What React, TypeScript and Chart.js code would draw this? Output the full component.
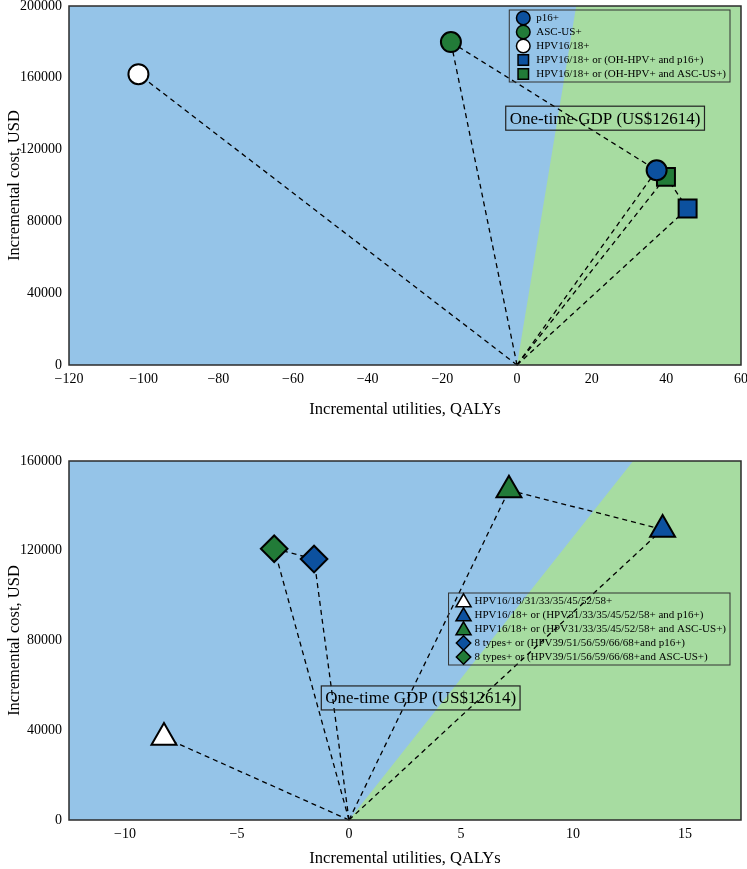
import React, { useEffect, useRef } from 'react';
import { Chart, registerables } from 'chart.js';
import { drawPoint } from 'chart.js/helpers';

Chart.register(...registerables);

const FONT = "'Liberation Serif', 'Times New Roman', Times, serif";
const BG_BLUE = '#95c4e8';
const BG_GREEN = '#a7dca1';
const M_BLUE = '#0c519f';
const M_GREEN = '#227b38';
const WTP = 12614; // one-time GDP per capita, US$ per QALY
const GDP_LABEL = 'One-time GDP (US$12614)';

// ---------- Panel A ----------
const aLabels = [
  'p16+',
  'ASC-US+',
  'HPV16/18+',
  'HPV16/18+ or (OH-HPV+ and p16+)',
  'HPV16/18+ or (OH-HPV+ and ASC-US+)',
];
const aQalys = [37.4, -17.7, -101.4, 45.7, 39.9];
const aCosts = [108500, 179900, 162000, 87200, 104800];
const aFrontier = [1, 0, 4, 3];
const aXTicks = [-120, -100, -80, -60, -40, -20, 0, 20, 40, 60];
const aYTicks = [0, 40000, 80000, 120000, 160000, 200000];
const aXRange = [-120, 60];
const aYRange = [0, 200000];
const aGdpAt = [23.6, 137500];

// ---------- Panel B ----------
const bLabels = [
  'HPV16/18/31/33/35/45/52/58+',
  'HPV16/18+ or (HPV31/33/35/45/52/58+ and p16+)',
  'HPV16/18+ or (HPV31/33/35/45/52/58+ and ASC-US+)',
  '8 types+ or (HPV39/51/56/59/66/68+and p16+)',
  '8 types+ or (HPV39/51/56/59/66/68+and ASC-US+)',
];
const bQalys = [-8.26, 14.0, 7.14, -1.56, -3.34];
const bCosts = [36800, 129500, 147000, 116300, 120900];
const bFrontiers = [[4, 3], [2, 1]];
const bXTicks = [-10, -5, 0, 5, 10, 15];
const bYTicks = [0, 40000, 80000, 120000, 160000];
const bXRange = [-12.5, 17.5];
const bYRange = [0, 160000];
const bGdpAt = [3.2, 54400];

// marker styles (plot radius, legend radius)
const aMarkers = [
  { style: 'circle', color: M_BLUE, r: 10, lr: 6.8 },
  { style: 'circle', color: M_GREEN, r: 10, lr: 6.8 },
  { style: 'circle', color: '#ffffff', r: 10, lr: 6.8 },
  { style: 'rect', color: M_BLUE, r: 12.7, lr: 7.4 },
  { style: 'rect', color: M_GREEN, r: 12.7, lr: 7.4 },
];
const bMarkers = [
  { style: 'triangle', color: '#ffffff', r: 14.4, lr: 8.7 },
  { style: 'triangle', color: M_BLUE, r: 14.4, lr: 8.7 },
  { style: 'triangle', color: M_GREEN, r: 14.4, lr: 8.7 },
  { style: 'rectRot', color: M_BLUE, r: 13.3, lr: 7.2 },
  { style: 'rectRot', color: M_GREEN, r: 13.3, lr: 7.2 },
];

type Panel = {
  labels: string[];
  qalys: number[];
  costs: number[];
  frontiers: number[][];
  xTicks: number[];
  yTicks: number[];
  xRange: number[];
  yRange: number[];
  gdpAt: number[];
  markers: { style: string; color: string; r: number; lr: number }[];
  height: number;
  padTop: number;
  padRight: number;
  xAxisH: number;
  xTitlePadBottom: number;
  legendTopInset: number;
  legendMarkerDx: number;
  legendTextDx: number;
};

const panelA: Panel = {
  labels: aLabels, qalys: aQalys, costs: aCosts, frontiers: [aFrontier],
  xTicks: aXTicks, yTicks: aYTicks, xRange: aXRange, yRange: aYRange, gdpAt: aGdpAt,
  markers: aMarkers, height: 440, padTop: 6, padRight: 6, xAxisH: 75, xTitlePadBottom: 20,
  legendTopInset: 4, legendMarkerDx: 14, legendTextDx: 27,
};
const panelB: Panel = {
  labels: bLabels, qalys: bQalys, costs: bCosts, frontiers: bFrontiers,
  xTicks: bXTicks, yTicks: bYTicks, xRange: bXRange, yRange: bYRange, gdpAt: bGdpAt,
  markers: bMarkers, height: 429, padTop: 21, padRight: 6, xAxisH: 49, xTitlePadBottom: 0,
  legendTopInset: 132, legendMarkerDx: 15, legendTextDx: 26,
};

const fmt = (v: number) => (v < 0 ? '\u2212' + Math.abs(v) : String(v));

function makeDecor(p: Panel) {
  return {
    id: 'ceaDecor',
    beforeDatasetsDraw(chart: any) {
      const { ctx, chartArea: ca, scales } = chart;
      const x = scales.x, y = scales.y;
      ctx.save();
      ctx.beginPath();
      ctx.rect(ca.left, ca.top, ca.right - ca.left, ca.bottom - ca.top);
      ctx.clip();
      ctx.fillStyle = BG_BLUE;
      ctx.fillRect(ca.left, ca.top, ca.right - ca.left, ca.bottom - ca.top);
      const yMax = y.max, yMin = y.min, xMax = x.max;
      ctx.beginPath();
      ctx.moveTo(x.getPixelForValue(yMin / WTP), y.getPixelForValue(yMin));
      ctx.lineTo(x.getPixelForValue(yMax / WTP), y.getPixelForValue(yMax));
      ctx.lineTo(x.getPixelForValue(xMax) + 2, y.getPixelForValue(yMax));
      ctx.lineTo(x.getPixelForValue(xMax) + 2, y.getPixelForValue(yMin));
      ctx.closePath();
      ctx.fillStyle = BG_GREEN;
      ctx.fill();
      ctx.restore();
    },
    afterDatasetsDraw(chart: any) {
      const { ctx, chartArea: ca, scales } = chart;
      const x = scales.x, y = scales.y;
      ctx.save();
      // frame
      ctx.strokeStyle = '#2b2b2b';
      ctx.lineWidth = 1.5;
      ctx.strokeRect(ca.left, ca.top, ca.right - ca.left, ca.bottom - ca.top);

      // GDP annotation
      ctx.font = `17px ${FONT}`;
      ctx.textBaseline = 'middle';
      ctx.textAlign = 'center';
      const gx = x.getPixelForValue(p.gdpAt[0]);
      const gy = y.getPixelForValue(p.gdpAt[1]);
      const tw = ctx.measureText(GDP_LABEL).width;
      ctx.fillStyle = '#000';
      ctx.fillText(GDP_LABEL, gx, gy + 1);
      ctx.strokeStyle = '#222';
      ctx.lineWidth = 1.2;
      ctx.strokeRect(gx - tw / 2 - 4, gy - 12, tw + 8, 24);

      // legend
      ctx.font = `11px ${FONT}`;
      ctx.textAlign = 'left';
      const maxW = Math.max(...p.labels.map((l) => ctx.measureText(l).width));
      const w = p.legendTextDx + maxW + 4;
      const rowH = 14;
      const h = 8 + rowH * (p.labels.length - 1) + 8;
      const right = ca.right - 11;
      const left = right - w;
      const top = ca.top + p.legendTopInset;
      ctx.strokeStyle = '#333';
      ctx.lineWidth = 1;
      ctx.strokeRect(left, top, w, h);
      p.labels.forEach((lab, i) => {
        const cy = top + 8 + i * rowH;
        const m = p.markers[i];
        ctx.fillStyle = m.color;
        ctx.strokeStyle = '#000';
        ctx.lineWidth = 1.5;
        drawPoint(ctx, { pointStyle: m.style, radius: m.lr, rotation: 0, borderWidth: 1.5 } as any,
          left + p.legendMarkerDx, cy + (m.style === 'triangle' ? 1.5 : 0));
        ctx.fillStyle = '#000';
        ctx.fillText(lab, left + p.legendTextDx, cy + 0.5);
      });
      ctx.restore();
    },
  };
}

function buildConfig(p: Panel): any {
  const lineStyle = {
    type: 'scatter',
    showLine: true,
    borderColor: '#000',
    borderWidth: 1.3,
    borderDash: [5, 4],
    pointRadius: 0,
    order: 2,
    clip: false,
  };
  const rays = p.qalys.map((q, i) => ({
    ...lineStyle,
    label: 'ray ' + p.labels[i],
    data: [{ x: 0, y: 0 }, { x: q, y: p.costs[i] }],
  }));
  const fronts = p.frontiers.map((f, k) => ({
    ...lineStyle,
    label: 'frontier ' + k,
    data: f.map((i) => ({ x: p.qalys[i], y: p.costs[i] })),
  }));
  const points = p.qalys.map((q, i) => ({
    type: 'scatter',
    label: p.labels[i],
    data: [{ x: q, y: p.costs[i] }],
    pointStyle: p.markers[i].style,
    pointRadius: p.markers[i].r,
    pointBackgroundColor: p.markers[i].color,
    pointBorderColor: '#000',
    pointBorderWidth: 2,
    order: 0,
    clip: false,
  }));
  const tickFont = { family: FONT, size: 14 };
  const titleFont = { family: FONT, size: 16.5 };
  return {
    type: 'scatter',
    data: { datasets: [...rays, ...fronts, ...points] },
    options: {
      responsive: false,
      animation: false,
      events: [],
      layout: { autoPadding: false, padding: { top: p.padTop, right: p.padRight, left: 0, bottom: 0 } },
      plugins: { legend: { display: false }, tooltip: { enabled: false } },
      scales: {
        x: {
          type: 'linear',
          min: p.xRange[0],
          max: p.xRange[1],
          grid: { display: false, drawTicks: false },
          border: { display: false },
          afterBuildTicks: (s: any) => { s.ticks = p.xTicks.map((v) => ({ value: v })); },
          afterFit: (s: any) => { s.height = p.xAxisH; s.paddingLeft = 0; s.paddingRight = 0; s.paddingTop = 0; s.paddingBottom = 0; },
          ticks: { color: '#000', font: tickFont, padding: 6, maxRotation: 0, autoSkip: false, callback: (v: any) => fmt(Number(v)) },
          title: { display: true, text: 'Incremental utilities, QALYs', color: '#000', font: titleFont, padding: { top: 0, bottom: p.xTitlePadBottom } },
        },
        y: {
          type: 'linear',
          min: p.yRange[0],
          max: p.yRange[1],
          grid: { display: false, drawTicks: false },
          border: { display: false },
          afterBuildTicks: (s: any) => { s.ticks = p.yTicks.map((v) => ({ value: v })); },
          afterFit: (s: any) => { s.width = 69; s.paddingLeft = 0; s.paddingRight = 0; s.paddingTop = 0; s.paddingBottom = 0; },
          ticks: { color: '#000', font: tickFont, padding: 7, autoSkip: false, callback: (v: any) => String(v) },
          title: { display: true, text: 'Incremental cost, USD', color: '#000', font: titleFont, padding: { top: 5, bottom: 5 } },
        },
      },
    },
    plugins: [makeDecor(p)],
  };
}

function CeaChart({ panel, top }: { panel: Panel; top: number }) {
  const ref = useRef<HTMLCanvasElement | null>(null);
  useEffect(() => {
    if (!ref.current) return;
    const chart = new Chart(ref.current, buildConfig(panel));
    return () => chart.destroy();
  }, [panel]);
  return (
    <canvas
      ref={ref}
      width={747}
      height={panel.height}
      style={{ position: 'absolute', left: 0, top, width: 747, height: panel.height, display: 'block' }}
    />
  );
}

export default function App() {
  return (
    <div style={{ position: 'absolute', left: 0, top: 0, width: 747, height: 869, background: '#fff' }}>
      <CeaChart panel={panelA} top={0} />
      <CeaChart panel={panelB} top={440} />
    </div>
  );
}
